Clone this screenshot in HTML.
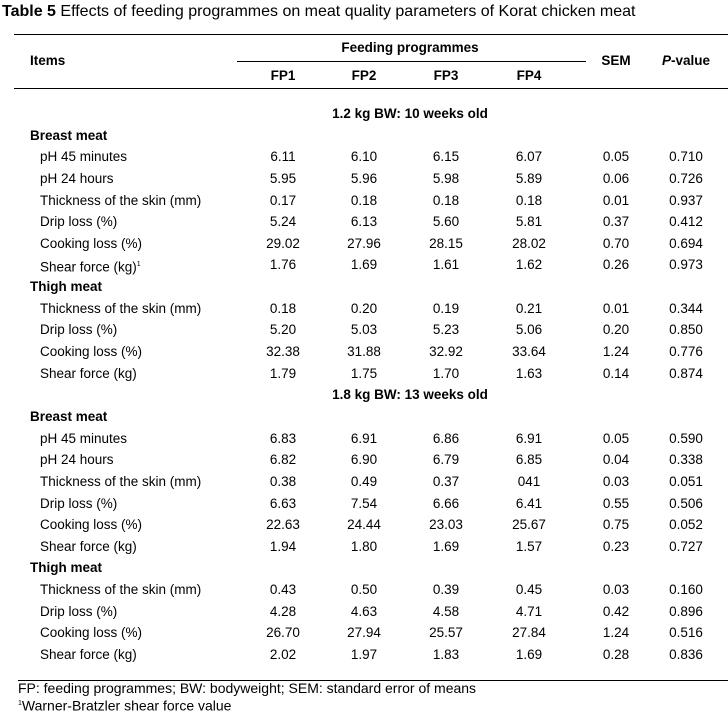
<!DOCTYPE html>
<html><head><meta charset="utf-8"><style>
body{margin:0;width:728px;height:716px;background:#fff;font-family:"Liberation Sans",Arial,sans-serif;color:#000;position:relative;overflow:hidden}
.t{position:absolute;font-size:13.5px;white-space:nowrap;line-height:16px}
.c{transform:translateX(-50%)}
.b{font-weight:bold}
.rule{position:absolute;height:1px;background:#000}
</style></head><body>
<div class="t" style="left:2px;top:3px;font-size:16px;line-height:18px"><b>Table 5</b> Effects of feeding programmes on meat quality parameters of Korat chicken meat</div>
<div class="rule" style="left:14px;width:714px;top:34px"></div>
<div class="rule" style="left:237px;width:349px;top:61px"></div>
<div class="rule" style="left:14px;width:714px;top:88px"></div>
<div class="rule" style="left:18px;width:710px;top:680px"></div>
<div class="t b" style="left:30px;top:53px">Items</div>
<div class="t b c" style="left:410px;top:40px">Feeding programmes</div>
<div class="t b c" style="left:283px;top:68px">FP1</div>
<div class="t b c" style="left:364px;top:68px">FP2</div>
<div class="t b c" style="left:446px;top:68px">FP3</div>
<div class="t b c" style="left:529px;top:68px">FP4</div>
<div class="t b c" style="left:616px;top:53px">SEM</div>
<div class="t b c" style="left:686px;top:53px"><i>P</i>-value</div>
<div class="t" style="left:18px;top:681px;font-size:14px;line-height:15px">FP: feeding programmes; BW: bodyweight; SEM: standard error of means</div>
<div class="t" style="left:18px;top:696px;font-size:14px;line-height:15px"><sup style="font-size:7px">1</sup>Warner-Bratzler shear force value</div>
<div id="rows"></div>
<script>
const rows=[
["S","1.2 kg BW: 10 weeks old"],["G","Breast meat"],
["pH 45 minutes","6.11","6.10","6.15","6.07","0.05","0.710"],
["pH 24 hours","5.95","5.96","5.98","5.89","0.06","0.726"],
["Thickness of the skin (mm)","0.17","0.18","0.18","0.18","0.01","0.937"],
["Drip loss (%)","5.24","6.13","5.60","5.81","0.37","0.412"],
["Cooking loss (%)","29.02","27.96","28.15","28.02","0.70","0.694"],
["Shear force (kg)<sup style='font-size:7px'>1</sup>","1.76","1.69","1.61","1.62","0.26","0.973"],
["G","Thigh meat"],
["Thickness of the skin (mm)","0.18","0.20","0.19","0.21","0.01","0.344"],
["Drip loss (%)","5.20","5.03","5.23","5.06","0.20","0.850"],
["Cooking loss (%)","32.38","31.88","32.92","33.64","1.24","0.776"],
["Shear force (kg)","1.79","1.75","1.70","1.63","0.14","0.874"],
["S","1.8 kg BW: 13 weeks old"],["G","Breast meat"],
["pH 45 minutes","6.83","6.91","6.86","6.91","0.05","0.590"],
["pH 24 hours","6.82","6.90","6.79","6.85","0.04","0.338"],
["Thickness of the skin (mm)","0.38","0.49","0.37","041","0.03","0.051"],
["Drip loss (%)","6.63","7.54","6.66","6.41","0.55","0.506"],
["Cooking loss (%)","22.63","24.44","23.03","25.67","0.75","0.052"],
["Shear force (kg)","1.94","1.80","1.69","1.57","0.23","0.727"],
["G","Thigh meat"],
["Thickness of the skin (mm)","0.43","0.50","0.39","0.45","0.03","0.160"],
["Drip loss (%)","4.28","4.63","4.58","4.71","0.42","0.896"],
["Cooking loss (%)","26.70","27.94","25.57","27.84","1.24","0.516"],
["Shear force (kg)","2.02","1.97","1.83","1.69","0.28","0.836"]];
const cx=[283,364,446,529,616,686];
const host=document.getElementById('rows');
rows.forEach((r,i)=>{
 const top=113+i*21.64-7;
 function add(html,left,cls){
  const d=document.createElement('div');
  d.className='t '+cls;
  d.style.left=left+'px';d.style.top=top+'px';
  d.innerHTML=html;
  
  
  host.appendChild(d);
 }
 if(r[0]==='S'){add(r[1],410,'b c');return;}
 if(r[0]==='G'){add(r[1],30,'b');return;}
 add(r[0],40,'');
 for(let j=1;j<7;j++)add(r[j],cx[j-1],'c');
});
</script>
</body></html>
